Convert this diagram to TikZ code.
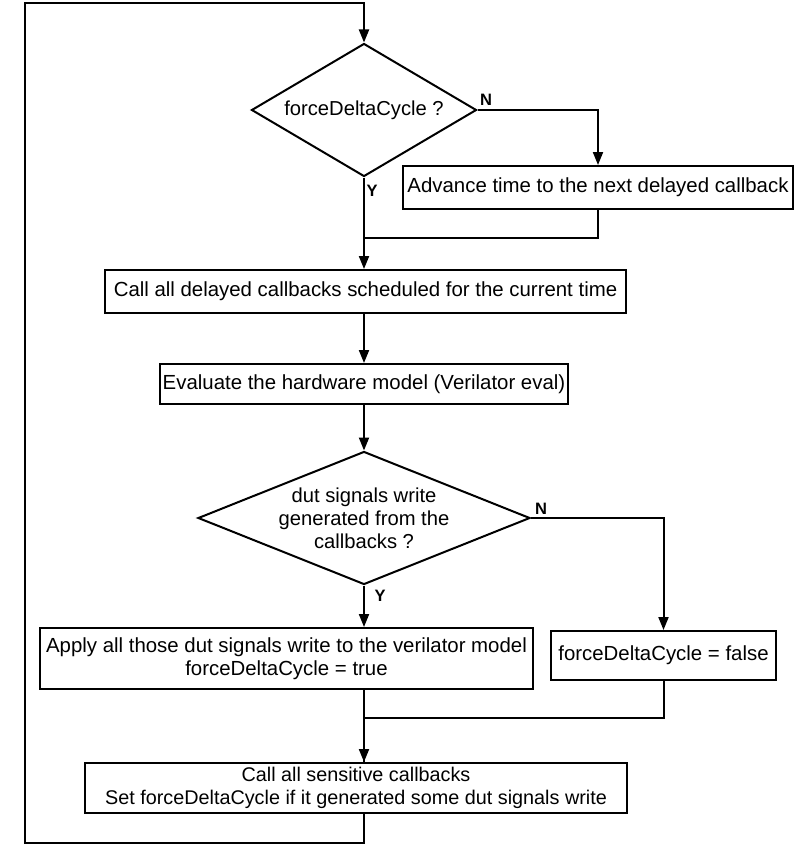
\documentclass[tikz,border=0pt]{standalone}
\usepackage{fontspec}
\setmainfont{Liberation Sans}
\usetikzlibrary{shapes.geometric,arrows.meta}
\begin{document}
\begin{tikzpicture}[x=1pt,y=-1pt,
  line width=2pt,
  box/.style={draw,rectangle,inner sep=0pt,align=center,font=\fontsize{20.4}{23}\selectfont},
  dec/.style={draw,diamond,inner sep=0pt,align=center,font=\fontsize{20.2}{23}\selectfont},
  lab/.style={font=\bfseries\fontsize{16.5}{18}\selectfont,inner sep=0pt},
  arr/.style={-{Triangle[length=13pt,width=10pt]}}]
\useasboundingbox (0,0) rectangle (804,851);
\node[dec,aspect=1.69,minimum width=225pt,minimum height=133pt] (d1) at (364,110) {forceDeltaCycle ?};
\node[box,minimum width=390pt,minimum height=43pt] (b2) at (598,187.5) {Advance time to the next delayed callback};
\node[box,minimum width=521pt,minimum height=43pt] (b3) at (365.5,291.5) {Call all delayed callbacks scheduled for the current time};
\node[box,minimum width=408pt,minimum height=40pt] (b4) at (364,384) {Evaluate the hardware model (Verilator eval)};
\node[dec,aspect=2.5,minimum width=332pt,minimum height=133pt,font=\fontsize{20.2}{23}\selectfont] (d2) at (364,518) {dut signals write\\generated from the\\callbacks ?};
\node[box,minimum width=493pt,minimum height=61pt] (b5) at (286.5,658.5) {Apply all those dut signals write to the verilator model\\forceDeltaCycle = true};
\node[box,minimum width=225pt,minimum height=49pt] (b6) at (663.5,655.5) {forceDeltaCycle = false};
\node[box,minimum width=542pt,minimum height=50pt,font=\fontsize{19.8}{23}\selectfont] (b7) at (356,788) {Call all sensitive callbacks\\Set forceDeltaCycle if it generated some dut signals write};
\node[lab] (n1) at (486,100) {N};
\node[lab] (y1) at (372,191) {Y};
\node[lab] (n2) at (541,509) {N};
\node[lab] (y2) at (380,596) {Y};
\coordinate (m1) at (364,238);
\coordinate (m2) at (364,718);
\coordinate (bl) at (25,843);
\coordinate (tl) at (25,3);
\draw[arr] (d1.east) -| (b2.north);
\draw (b2.south) |- (m1);
\draw[arr] (d1.south) -- (d1.south |- b3.north);
\draw[arr] (d1.south |- b3.south) -- (d1.south |- b4.north);
\draw[arr] (d1.south |- b4.south) -- (d2.north);
\draw[arr] (d2.east) -| (b6.north);
\draw[arr] (d2.south) -- (d2.south |- b5.north);
\draw (d2.south |- b5.south) -- (d2.south |- b7.north);
\draw (b6.south) |- (m2);
\draw[arr] (m2) -- (m2 |- b7.north);
\draw[arr] (d2.south |- b7.south) -- (d2.south |- bl) -- (bl) -- (tl) -- (d1.north |- tl) -- (d1.north);
\end{tikzpicture}
\end{document}
